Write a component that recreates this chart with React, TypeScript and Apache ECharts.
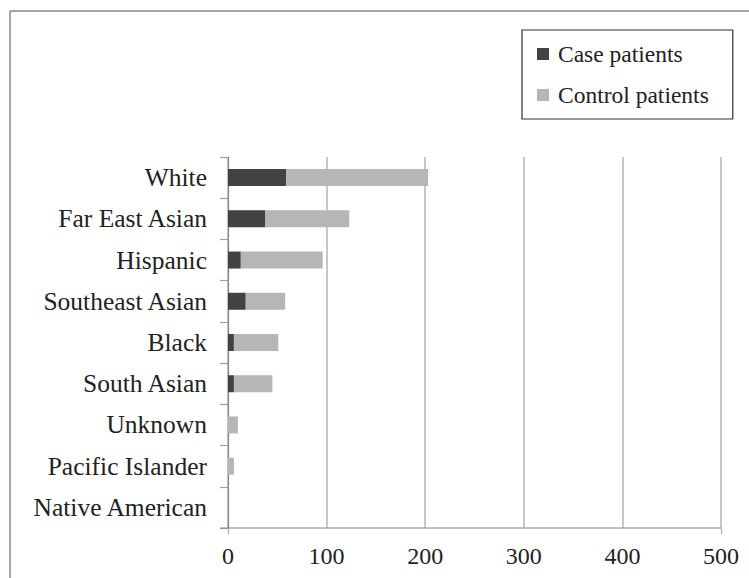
import React, { useEffect, useRef } from "react";
import * as echarts from "echarts";

const categories = [
  "White",
  "Far East Asian",
  "Hispanic",
  "Southeast Asian",
  "Black",
  "South Asian",
  "Unknown",
  "Pacific Islander",
  "Native American",
];
const casePatients = [59, 38, 13, 18, 6, 6, 0, 0, 0];
const controlPatients = [144, 85, 83, 40, 45, 39, 10, 6, 0];
const xTicks = [0, 100, 200, 300, 400, 500];
const edgeTicks = [0, 500];

const FONT = "Liberation Serif";

export default function App() {
  const ref = useRef<HTMLDivElement>(null);
  useEffect(() => {
    if (!ref.current) return;
    const chart = echarts.init(ref.current, undefined, { renderer: "svg" });
    const cats = [...categories].reverse();
    const cs = [...casePatients].reverse();
    const ctl = [...controlPatients].reverse();
    chart.setOption({
      animation: false,
      backgroundColor: "#ffffff",
      textStyle: { fontFamily: FONT },
      grid: { left: 228, right: 28, top: 157, bottom: 50, containLabel: false },
      legend: {
        orient: "vertical",
        left: 522,
        top: 30,
        padding: [12, 24, 12, 15],
        itemGap: 17,
        itemWidth: 12,
        itemHeight: 12,
        icon: "rect",
        borderColor: "#333333",
        borderWidth: 1.2,
        textStyle: {
          fontFamily: FONT,
          fontSize: 23.5,
          color: "#222222",
          padding: [0, 0, 0, 4],
        },
        data: ["Case patients", "Control patients"],
      },
      xAxis: [
        {
          type: "value",
          min: xTicks[0],
          max: xTicks[xTicks.length - 1],
          interval: 100,
          axisLine: { show: false },
          axisTick: { show: false },
          splitLine: { show: true, lineStyle: { color: "#b4b4b4", width: 1.5 } },
          axisLabel: {
            fontFamily: FONT,
            fontSize: 24,
            color: "#222222",
            margin: 16,
          },
        },
        {
          type: "value",
          position: "bottom",
          min: xTicks[0],
          max: xTicks[xTicks.length - 1],
          axisLine: { show: false },
          axisLabel: { show: false },
          splitLine: { show: false },
          axisTick: {
            show: true,
            length: 6,
            customValues: edgeTicks,
            lineStyle: { color: "#b0b0b0", width: 1.2 },
          },
        },
      ],
      yAxis: {
        type: "category",
        data: cats,
        axisLine: { show: true, lineStyle: { color: "#888888", width: 1.2 } },
        axisTick: {
          show: true,
          length: 8,
          lineStyle: { color: "#a0a0a0", width: 1.2 },
        },
        axisLabel: {
          fontFamily: FONT,
          fontSize: 25.5,
          color: "#222222",
          margin: 21,
        },
      },
      graphic: [
        {
          type: "line",
          shape: { x1: 10, y1: 11, x2: 749, y2: 11 },
          style: { stroke: "#8a8a8a", lineWidth: 1.5 },
          silent: true,
        },
        {
          type: "line",
          shape: { x1: 10, y1: 11, x2: 10, y2: 578 },
          style: { stroke: "#8a8a8a", lineWidth: 1.5 },
          silent: true,
        },
        {
          type: "line",
          shape: { x1: 220, y1: 528, x2: 721, y2: 528 },
          style: { stroke: "#888888", lineWidth: 1.2 },
          silent: true,
          z: 100,
        },
      ],
      series: [
        {
          name: "Case patients",
          type: "bar",
          stack: "total",
          barWidth: 17,
          data: cs,
          itemStyle: { color: "#434343" },
        },
        {
          name: "Control patients",
          type: "bar",
          stack: "total",
          barWidth: 17,
          data: ctl,
          itemStyle: { color: "#b6b6b8" },
        },
      ],
    });
    return () => chart.dispose();
  }, []);
  return (
    <div
      ref={ref}
      style={{ position: "absolute", left: 0, top: 0, width: 749, height: 578 }}
    />
  );
}
